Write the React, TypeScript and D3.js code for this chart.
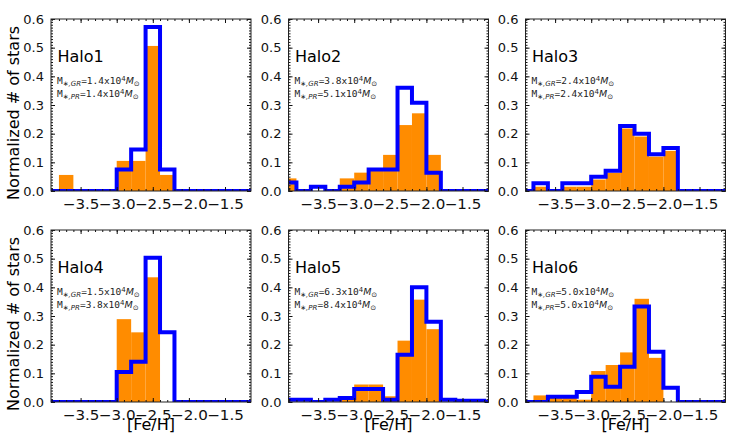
import React, { useEffect, useRef } from "react";
import * as d3 from "d3";

// [Fe/H] bin edges (0.2 dex bins)
const binEdges = [-4.0, -3.8, -3.6, -3.4, -3.2, -3.0, -2.8, -2.6, -2.4, -2.2, -2.0, -1.8, -1.6, -1.4, -1.2, -1.0];

const haloNames = ["Halo1", "Halo2", "Halo3", "Halo4", "Halo5", "Halo6"];
const massGR = ["1.4", "3.8", "2.4", "1.5", "6.3", "5.0"];
const massPR = ["1.4", "5.1", "2.4", "3.8", "8.4", "5.0"];

// filled (orange) histograms
const halo1Fill = [0, 0.056, 0, 0, 0, 0.105, 0.105, 0.506, 0.056, 0, 0, 0, 0, 0, 0];
const halo2Fill = [0.044, 0, 0, 0, 0.044, 0.064, 0.08, 0.126, 0.23, 0.271, 0.126, 0, 0, 0, 0];
const halo3Fill = [0, 0.015, 0, 0.015, 0.015, 0.04, 0.064, 0.218, 0.19, 0.12, 0.14, 0, 0, 0, 0];
const halo4Fill = [0, 0, 0, 0, 0, 0.289, 0.243, 0.435, 0, 0, 0, 0, 0, 0, 0];
const halo5Fill = [0, 0, 0, 0, 0.02, 0.061, 0.061, 0.02, 0.214, 0.357, 0.254, 0, 0, 0, 0];
const halo6Fill = [0, 0.023, 0.018, 0.018, 0.008, 0.108, 0.129, 0.173, 0.36, 0.154, 0, 0, 0, 0, 0];

// step (blue) histograms
const halo1Step = [0, 0, 0, 0, 0, 0.075, 0.145, 0.572, 0.075, 0, 0, 0, 0, 0, 0];
const halo2Step = [0.03, 0, 0.015, 0, 0.015, 0.03, 0.075, 0.075, 0.36, 0.308, 0.064, 0, 0, 0, 0];
const halo3Step = [0, 0.027, 0, 0.027, 0.027, 0.05, 0.071, 0.227, 0.2, 0.128, 0.15, 0, 0, 0, 0];
const halo4Step = [0, 0, 0, 0, 0, 0.105, 0.14, 0.503, 0.243, 0, 0, 0, 0, 0, 0];
const halo5Step = [0.008, 0.008, 0, 0.008, 0.014, 0.045, 0.045, 0.008, 0.165, 0.4, 0.28, 0.008, 0.004, 0.004, 0];
const halo6Step = [0, 0, 0.018, 0.018, 0.035, 0.088, 0.053, 0.123, 0.333, 0.175, 0.05, 0, 0, 0, 0];

const fillSeries = [halo1Fill, halo2Fill, halo3Fill, halo4Fill, halo5Fill, halo6Fill];
const stepSeries = [halo1Step, halo2Step, halo3Step, halo4Step, halo5Step, halo6Step];

const xTicks = [-3.5, -3.0, -2.5, -2.0, -1.5];
const yTicks = [0, 0.1, 0.2, 0.3, 0.4, 0.5, 0.6];

const W = 736;
const H = 446;
const colLeft = [51, 288.5, 525.5];
const rowTop = [19, 230];
const pw = 200;
const ph = 172;

const App: React.FC = () => {
  const svgRef = useRef<SVGSVGElement | null>(null);

  useEffect(() => {
    const svg = d3.select(svgRef.current);
    svg.selectAll("*").remove();

    const x = d3.scaleLinear().domain([-3.91, -1.14]).range([0, pw]);
    const y = d3.scaleLinear().domain([0, 0.6]).range([ph, 0]);
    const fmt = d3.format(".1f");
    const xMinor = d3.range(-39, -11).map((v) => v / 10);
    const yMinor = d3.range(0, 61).map((v) => v / 100);

    const styleAxis = (sel: any) => {
      sel.select(".domain").remove();
      sel.attr("font-family", "DejaVu Sans").attr("font-size", 13).attr("color", "#111");
    };

    haloNames.forEach((name, i) => {
      const col = i % 3;
      const row = Math.floor(i / 3);
      const g = svg.append("g").attr("transform", `translate(${colLeft[col]},${rowTop[row]})`);

      const clipId = `clip${i}`;
      g.append("clipPath").attr("id", clipId).append("rect").attr("width", pw).attr("height", ph);
      const plot = g.append("g").attr("clip-path", `url(#${clipId})`);

      const bins = fillSeries[i].map((v, j) => ({ x0: binEdges[j], x1: binEdges[j + 1], v }));
      plot
        .selectAll("rect")
        .data(bins.filter((b) => b.v > 0))
        .enter()
        .append("rect")
        .attr("x", (d) => x(d.x0))
        .attr("width", (d) => x(d.x1) - x(d.x0))
        .attr("y", (d) => y(d.v))
        .attr("height", (d) => y(0) - y(d.v))
        .attr("fill", "#ff8c00");

      const steps = stepSeries[i];
      const pts: [number, number][] = [
        [binEdges[0], 0],
        ...steps.map((v, j) => [binEdges[j], v] as [number, number]),
        [binEdges[binEdges.length - 1], steps[steps.length - 1]],
        [binEdges[binEdges.length - 1], 0],
      ];
      const line = d3
        .line<[number, number]>()
        .x((d) => x(d[0]))
        .y((d) => y(d[1]))
        .curve(d3.curveStepAfter);
      plot
        .append("path")
        .attr("d", line(pts))
        .attr("fill", "none")
        .attr("stroke", "#0000ff")
        .attr("stroke-width", 4)
        .attr("stroke-linejoin", "miter");

      // ticks, all inward
      g.append("g").attr("transform", `translate(0,${ph})`)
        .call(d3.axisBottom(x).tickValues(xMinor).tickSize(-2).tickFormat(() => ""))
        .call(styleAxis);
      const xAx = g.append("g").attr("transform", `translate(0,${ph})`)
        .call(d3.axisBottom(x).tickValues(xTicks).tickSize(-4).tickPadding(8).tickFormat((d) => fmt(d as number)))
        .call(styleAxis);
      xAx.selectAll("text").attr("font-size", 13.5).attr("transform", "scale(1.12,1)");
      g.append("g")
        .call(d3.axisTop(x).tickValues(xMinor).tickSize(-2).tickFormat(() => ""))
        .call(styleAxis);
      g.append("g")
        .call(d3.axisTop(x).tickValues(xTicks).tickSize(-4).tickFormat(() => ""))
        .call(styleAxis);
      g.append("g")
        .call(d3.axisLeft(y).tickValues(yMinor).tickSize(-2).tickFormat(() => ""))
        .call(styleAxis);
      g.append("g")
        .call(d3.axisLeft(y).tickValues(yTicks).tickSize(-4).tickPadding(7).tickFormat((d) => fmt(d as number)))
        .call(styleAxis);
      g.append("g").attr("transform", `translate(${pw},0)`)
        .call(d3.axisRight(y).tickValues(yMinor).tickSize(-2).tickFormat(() => ""))
        .call(styleAxis);
      g.append("g").attr("transform", `translate(${pw},0)`)
        .call(d3.axisRight(y).tickValues(yTicks).tickSize(-4).tickFormat(() => ""))
        .call(styleAxis);

      g.append("rect")
        .attr("width", pw)
        .attr("height", ph)
        .attr("fill", "none")
        .attr("stroke", "#222")
        .attr("stroke-width", 1);

      g.append("text")
        .attr("x", 6.5)
        .attr("y", 42.7)
        .attr("font-family", "DejaVu Sans")
        .attr("font-size", 16)
        .attr("fill", "#000")
        .text(name);

      const massLine = (yy: number, tag: string, val: string) => {
        const t = g.append("text")
          .attr("x", 6)
          .attr("y", yy)
          .attr("font-family", "DejaVu Sans Mono")
          .attr("font-size", 9.5)
          .attr("fill", "#222");
        t.append("tspan").text("M");
        t.append("tspan").attr("font-family", "DejaVu Sans").attr("font-style", "italic")
          .attr("font-size", 7).attr("dy", 2).text(`∗,${tag}`);
        t.append("tspan").attr("dy", -2).text(`=${val}x10`);
        t.append("tspan").attr("font-family", "DejaVu Sans").attr("font-size", 7).attr("dy", -3.5).text("4");
        t.append("tspan").attr("font-family", "DejaVu Sans").attr("font-style", "italic")
          .attr("dy", 3.5).text("M");
        t.append("tspan").attr("font-family", "DejaVu Sans").attr("font-size", 7).attr("dy", 2).text("⊙");
      };
      massLine(65, "GR", massGR[i]);
      massLine(78, "PR", massPR[i]);
    });

    // shared axis labels
    rowTop.forEach((top) => {
      svg.append("text")
        .attr("transform", `translate(19,${top + ph / 2 + 8}) rotate(-90)`)
        .attr("text-anchor", "middle")
        .attr("font-family", "DejaVu Sans")
        .attr("font-size", 16)
        .text("Normalized # of stars");
    });
    colLeft.forEach((left) => {
      svg.append("text")
        .attr("x", left + pw / 2)
        .attr("y", 430)
        .attr("text-anchor", "middle")
        .attr("font-family", "DejaVu Sans")
        .attr("font-size", 16)
        .text("[Fe/H]");
    });
  }, []);

  return (
    <div style={{ position: "absolute", left: 0, top: 0 }}>
      <svg ref={svgRef} width={W} height={H} style={{ display: "block", background: "#fff" }}></svg>
    </div>
  );
};

export default App;
